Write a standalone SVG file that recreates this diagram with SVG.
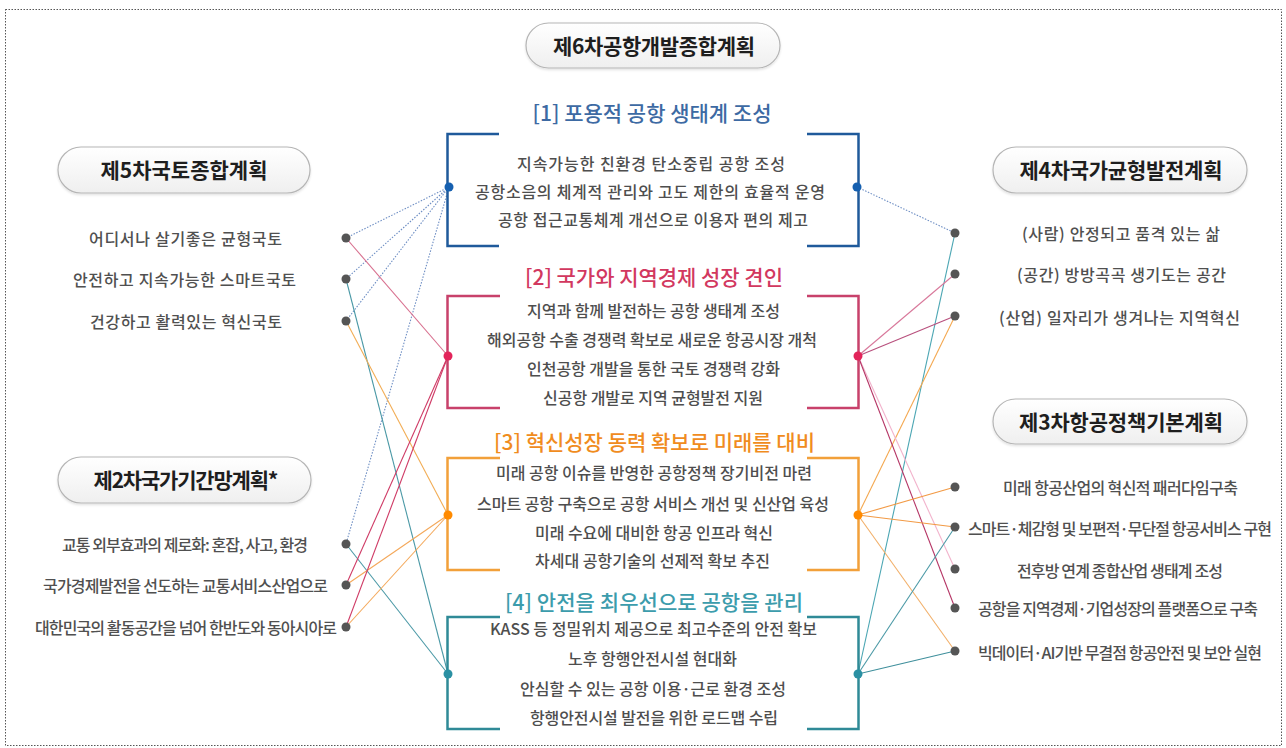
<svg xmlns="http://www.w3.org/2000/svg" width="1286" height="748" viewBox="0 0 1286 748">
<defs>
<linearGradient id="pillg" x1="0" y1="0" x2="0" y2="1">
<stop offset="0" stop-color="#ffffff"/>
<stop offset="1" stop-color="#efefef"/>
</linearGradient>
<filter id="sh" x="-10%" y="-20%" width="120%" height="150%">
<feDropShadow dx="0" dy="1.5" stdDeviation="1.2" flood-color="#000" flood-opacity="0.12"/>
</filter>
<style>
.t{font-family:"Noto Sans CJK KR","Noto Sans",sans-serif;dominant-baseline:central;text-anchor:middle}
.pill{fill:url(#pillg);stroke:#b5b5b5;stroke-width:1.2;filter:url(#sh)}
.pt{font-size:21px;font-weight:700;fill:#1e1e1e}
.it{font-size:16px;font-weight:500;fill:#505050}
.ct{font-size:16px;font-weight:500;fill:#4e4e4e}
.hd{font-size:21px;font-weight:500}
.gd{fill:#555}
.br{fill:none;stroke-width:2.5}
.c{fill:none;stroke-width:1.1}
.dot{stroke:#6f8fc4;stroke-dasharray:1.5 1.5}
</style>
</defs>
<rect x="0" y="0" width="1286" height="748" fill="#ffffff"/>
<rect x="5.5" y="9.5" width="1276" height="736" fill="none" stroke="#555" stroke-width="1" stroke-dasharray="1.5 1.5"/>

<g id="connectors">
<line class="c dot" x1="449" y1="187" x2="346" y2="238"/>
<line class="c dot" x1="449" y1="187" x2="346" y2="279"/>
<line class="c dot" x1="449" y1="187" x2="346" y2="321"/>
<line class="c dot" x1="449" y1="187" x2="346" y2="544"/>
<line class="c" stroke="#d8708f" x1="346" y1="238" x2="448" y2="356"/>
<line class="c" stroke="#4b99a6" x1="346" y1="279" x2="448" y2="674"/>
<line class="c" stroke="#f2ad55" x1="346" y1="321" x2="448" y2="515"/>
<line class="c" stroke="#4b99a6" x1="346" y1="544" x2="448" y2="674"/>
<line class="c" stroke="#cf3b66" x1="346" y1="585" x2="448" y2="356"/>
<line class="c" stroke="#f4a85a" x1="346" y1="585" x2="448" y2="515"/>
<line class="c" stroke="#cf3b66" x1="346" y1="627" x2="448" y2="356"/>
<line class="c" stroke="#f4a85a" x1="346" y1="627" x2="448" y2="515"/>

<line class="c dot" x1="857" y1="187" x2="955" y2="233"/>
<line class="c" stroke="#4ba6b3" x1="955" y1="233" x2="858" y2="674"/>
<line class="c" stroke="#d8779a" x1="858" y1="356" x2="955" y2="274"/>
<line class="c" stroke="#b8507d" x1="858" y1="356" x2="955" y2="316"/>
<line class="c" stroke="#f4a850" x1="955" y1="316" x2="858" y2="515"/>
<line class="c" stroke="#f2b3cc" x1="858" y1="356" x2="955" y2="569"/>
<line class="c" stroke="#b53565" x1="858" y1="356" x2="955" y2="608"/>
<line class="c" stroke="#f29a45" x1="858" y1="515" x2="955" y2="487"/>
<line class="c" stroke="#f29a45" x1="858" y1="515" x2="955" y2="527"/>
<line class="c" stroke="#f2b06a" x1="858" y1="515" x2="955" y2="651"/>
<line class="c" stroke="#4b99a6" x1="858" y1="674" x2="955" y2="527"/>
<line class="c" stroke="#3f8f9c" x1="858" y1="674" x2="955" y2="651"/>
</g>

<g id="title">
<rect class="pill" x="526" y="23" width="254" height="45" rx="22.5"/>
<text class="t pt" x="654" y="45" textLength="202">제6차공항개발종합계획</text>
</g>

<g id="plan5">
<rect class="pill" x="58" y="147" width="252" height="46" rx="23"/>
<text class="t pt" x="184" y="169" textLength="167">제5차국토종합계획</text>
<text class="t it" x="185.5" y="238" textLength="193">어디서나 살기좋은 균형국토</text>
<text class="t it" x="184.5" y="279" textLength="223">안전하고 지속가능한 스마트국토</text>
<text class="t it" x="186" y="321" textLength="192">건강하고 활력있는 혁신국토</text>
<circle class="gd" cx="346" cy="238" r="4.5"/>
<circle class="gd" cx="346" cy="279" r="4.5"/>
<circle class="gd" cx="346" cy="321" r="4.5"/>
</g>

<g id="plan2">
<rect class="pill" x="58" y="457" width="253" height="46" rx="23"/>
<text class="t pt" x="186" y="479" textLength="185">제2차국가기간망계획*</text>
<text class="t it" x="185" y="544" textLength="246">교통 외부효과의 제로화: 혼잡, 사고, 환경</text>
<text class="t it" x="185.5" y="585" textLength="285">국가경제발전을 선도하는 교통서비스산업으로</text>
<text class="t it" x="186" y="627" textLength="302">대한민국의 활동공간을 넘어 한반도와 동아시아로</text>
<circle class="gd" cx="346" cy="544" r="4.5"/>
<circle class="gd" cx="346" cy="585" r="4.5"/>
<circle class="gd" cx="346" cy="627" r="4.5"/>
</g>

<g id="plan4">
<rect class="pill" x="993" y="147" width="254" height="46" rx="23"/>
<text class="t pt" x="1121" y="169" textLength="203">제4차국가균형발전계획</text>
<text class="t it" x="1121" y="233" textLength="198">(사람) 안정되고 품격 있는 삶</text>
<text class="t it" x="1121.5" y="274" textLength="209">(공간) 방방곡곡 생기도는 공간</text>
<text class="t it" x="1119.5" y="317" textLength="241">(산업) 일자리가 생겨나는 지역혁신</text>
<circle class="gd" cx="955" cy="233" r="4.5"/>
<circle class="gd" cx="955" cy="274" r="4.5"/>
<circle class="gd" cx="955" cy="316" r="4.5"/>
</g>

<g id="plan3">
<rect class="pill" x="993" y="399" width="254" height="45" rx="22.5"/>
<text class="t pt" x="1121" y="421" textLength="204">제3차항공정책기본계획</text>
<text class="t it" x="1120.5" y="487" textLength="235">미래 항공산업의 혁신적 패러다임구축</text>
<text class="t it" x="1120" y="528" textLength="304">스마트·체감형 및 보편적·무단절 항공서비스 구현</text>
<text class="t it" x="1120" y="570" textLength="206">전후방 연계 종합산업 생태계 조성</text>
<text class="t it" x="1118" y="608" textLength="280">공항을 지역경제·기업성장의 플랫폼으로 구축</text>
<text class="t it" x="1120" y="652" textLength="284">빅데이터·AI기반 무결점 항공안전 및 보안 실현</text>
<circle class="gd" cx="955" cy="487" r="4.5"/>
<circle class="gd" cx="955" cy="527" r="4.5"/>
<circle class="gd" cx="955" cy="569" r="4.5"/>
<circle class="gd" cx="955" cy="608" r="4.5"/>
<circle class="gd" cx="955" cy="651" r="4.5"/>
</g>

<g id="goal1">
<text class="t hd" x="652" y="112" fill="#3d6aa3" textLength="239">[1] 포용적 공항 생태계 조성</text>
<path class="br" stroke="#1f5a9b" d="M499,134 H447.5 V246 H499 M807,134 H858.5 V246 H807"/>
<text class="t ct" x="651" y="163" textLength="268">지속가능한 친환경 탄소중립 공항 조성</text>
<text class="t ct" x="650" y="191" textLength="350">공항소음의 체계적 관리와 고도 제한의 효율적 운영</text>
<text class="t ct" x="653" y="219" textLength="310">공항 접근교통체계 개선으로 이용자 편의 제고</text>
<circle cx="449" cy="187" r="4.5" fill="#1660b0"/>
<circle cx="857" cy="187" r="4.5" fill="#1660b0"/>
</g>

<g id="goal2">
<text class="t hd" x="654" y="276" fill="#d2385f" textLength="258">[2] 국가와 지역경제 성장 견인</text>
<path class="br" stroke="#c8416b" d="M500,296 H447.5 V408 H500 M807,296 H858.5 V408 H807"/>
<text class="t ct" x="653.5" y="310" textLength="253">지역과 함께 발전하는 공항 생태계 조성</text>
<text class="t ct" x="652" y="339" textLength="330">해외공항 수출 경쟁력 확보로 새로운 항공시장 개척</text>
<text class="t ct" x="653.5" y="368" textLength="253">인천공항 개발을 통한 국토 경쟁력 강화</text>
<text class="t ct" x="653" y="397" textLength="220">신공항 개발로 지역 균형발전 지원</text>
<circle cx="448" cy="356" r="4.5" fill="#e2245a"/>
<circle cx="858" cy="356" r="4.5" fill="#e2245a"/>
</g>

<g id="goal3">
<text class="t hd" x="654.5" y="441" fill="#f08c1e" textLength="321">[3] 혁신성장 동력 확보로 미래를 대비</text>
<path class="br" stroke="#f2a03a" d="M500,458 H447.5 V570 H500 M807,458 H858.5 V570 H807"/>
<text class="t ct" x="654" y="472" textLength="316">미래 공항 이슈를 반영한 공항정책 장기비전 마련</text>
<text class="t ct" x="653" y="503" textLength="352">스마트 공항 구축으로 공항 서비스 개선 및 신산업 육성</text>
<text class="t ct" x="654" y="532" textLength="238">미래 수요에 대비한 항공 인프라 혁신</text>
<text class="t ct" x="652.5" y="560" textLength="235">차세대 공항기술의 선제적 확보 추진</text>
<circle cx="448" cy="515" r="4.5" fill="#ff8a00"/>
<circle cx="858" cy="515" r="4.5" fill="#ff8a00"/>
</g>

<g id="goal4">
<text class="t hd" x="654" y="601" fill="#3c9cac" textLength="298">[4] 안전을 최우선으로 공항을 관리</text>
<path class="br" stroke="#2f8a97" d="M500,617 H447.5 V729 H500 M807,617 H858.5 V729 H807"/>
<text class="t ct" x="653.5" y="628" textLength="327">KASS 등 정밀위치 제공으로 최고수준의 안전 확보</text>
<text class="t ct" x="652.5" y="658" textLength="169">노후 항행안전시설 현대화</text>
<text class="t ct" x="653" y="688" textLength="266">안심할 수 있는 공항 이용·근로 환경 조성</text>
<text class="t ct" x="654" y="717" textLength="248">항행안전시설 발전을 위한 로드맵 수립</text>
<circle cx="448" cy="674" r="4.5" fill="#2a90a3"/>
<circle cx="858" cy="674" r="4.5" fill="#2a90a3"/>
</g>
</svg>
